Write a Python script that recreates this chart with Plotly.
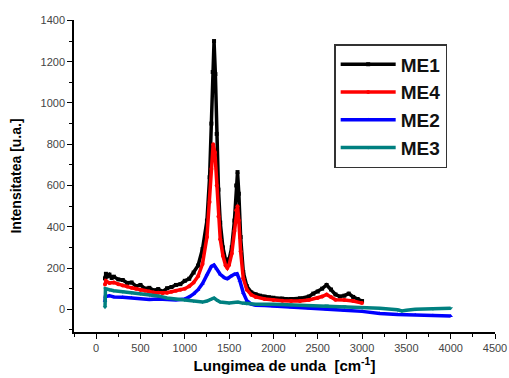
import plotly.graph_objects as go

# Raman spectra: wavenumber (cm^-1) vs intensity (a.u.)
x_me1 = [100, 110, 130, 150, 175, 200, 250, 300, 350, 400, 450, 500, 550, 600, 650, 700, 750, 800,
         850, 900, 950, 1000, 1050, 1100, 1150, 1200, 1250, 1280, 1300, 1315, 1330, 1345, 1360, 1380,
         1400, 1430, 1460, 1480, 1500, 1530, 1560, 1580, 1595, 1610, 1630, 1660, 1700, 1750, 1800,
         1850, 1900, 1950, 2000, 2100, 2200, 2300, 2400, 2450, 2500, 2550, 2600, 2650, 2700, 2750,
         2800, 2850, 2900, 2950, 3000]
y_me1 = [150, 172, 160, 168, 152, 158, 145, 142, 128, 130, 112, 118, 100, 104, 92, 98, 86, 102,
         108, 118, 122, 138, 148, 178, 212, 292, 430, 640, 900, 1150, 1300, 1140, 850, 580,
         420, 300, 240, 225, 242, 300, 430, 600, 665, 560, 350, 180, 112, 82, 72,
         66, 62, 58, 56, 52, 50, 53, 62, 76, 86, 100, 118, 96, 72, 62,
         66, 76, 60, 50, 40]

x_me4 = [100, 110, 150, 200, 250, 300, 350, 400, 450, 500, 550, 600, 650, 700, 750, 800, 850, 900,
         950, 1000, 1050, 1100, 1150, 1200, 1250, 1280, 1300, 1320, 1340, 1360, 1380, 1400, 1430,
         1460, 1480, 1500, 1530, 1560, 1580, 1595, 1610, 1630, 1660, 1700, 1750, 1800, 1900, 2000,
         2100, 2200, 2300, 2400, 2500, 2550, 2600, 2650, 2700, 2800, 2900, 3000]
y_me4 = [120, 138, 128, 130, 122, 115, 110, 104, 100, 94, 90, 86, 82, 80, 78, 80, 85, 90,
         95, 100, 112, 130, 160, 220, 350, 520, 680, 800, 760, 600, 450, 340, 260,
         212, 200, 215, 270, 380, 480, 500, 430, 280, 150, 95, 70, 60, 50, 45,
         42, 40, 40, 45, 55, 62, 72, 60, 46, 45, 40, 30]

x_me2 = [100, 105, 150, 200, 300, 400, 500, 600, 700, 800, 900, 1000, 1050, 1100, 1150, 1200, 1250,
         1300, 1330, 1360, 1400, 1450, 1480, 1520, 1560, 1590, 1620, 1660, 1700, 1750, 1800, 1900,
         2000, 2200, 2400, 2600, 2800, 3000, 3200, 3400, 3600, 3800, 4000]
y_me2 = [40, 62, 66, 60, 58, 55, 50, 48, 50, 48, 45, 50, 60, 75, 95, 125, 170,
         208, 215, 195, 170, 152, 148, 160, 170, 172, 140, 80, 42, 25, 20, 18,
         15, 10, 5, 0, -5, -10, -20, -25, -28, -30, -32]

x_me3 = [100, 105, 150, 200, 300, 400, 500, 600, 700, 800, 900, 1000, 1100, 1200, 1250, 1300,
         1330, 1360, 1400, 1500, 1600, 1650, 1700, 1800, 2000, 2200, 2400, 2600, 2800, 3000,
         3200, 3400, 3450, 3500, 3600, 3800, 4000]
y_me3 = [10, 100, 95, 90, 85, 80, 75, 70, 65, 55, 50, 45, 40, 35, 40, 50,
         55, 45, 35, 30, 35, 30, 28, 25, 25, 22, 20, 18, 15, 10,
         5, -2, -8, -5, 0, 3, 5]

x_ticks = [0, 500, 1000, 1500, 2000, 2500, 3000, 3500, 4000, 4500]
y_ticks = [0, 200, 400, 600, 800, 1000, 1200, 1400]

series = [
    ("ME1", x_me1, y_me1, "#000000", "square"),
    ("ME4", x_me4, y_me4, "#ff0000", "circle"),
    ("ME2", x_me2, y_me2, "#0000ff", "triangle-up"),
    ("ME3", x_me3, y_me3, "#008080", "triangle-down"),
]

fig = go.Figure()
for name, xs, ys, color, sym in series:
    fig.add_trace(go.Scatter(
        x=xs, y=ys, name="<b>" + name + "</b>", legendgroup=name,
        mode="lines+markers",
        line=dict(color=color, width=3.5),
        marker=dict(color=color, size=4, symbol=sym),
    ))

axis_font = dict(family="Arial", size=11, color="#444444")
fig.update_layout(
    width=509, height=378,
    margin=dict(l=74, r=14, t=20, b=46, autoexpand=False),
    paper_bgcolor="white", plot_bgcolor="white",
    showlegend=True,
    legend=dict(
        x=0.618, y=0.923, xanchor="left", yanchor="top",
        bordercolor="#333333", borderwidth=1.5, bgcolor="white",
        font=dict(family="Arial", size=19, color="#111111"),
        traceorder="grouped", tracegroupgap=0, itemwidth=55,
    ),
    xaxis=dict(
        range=[-250, 4500], tickvals=x_ticks, automargin=False,
        showline=True, linecolor="black", linewidth=1.5, mirror=False,
        ticks="outside", ticklen=5, tickcolor="black", showgrid=False, zeroline=False,
        minor=dict(ticks="outside", ticklen=3, dtick=250, tickcolor="black"),
        tickfont=axis_font,
        title=dict(text="<b>Lungimea de unda  [cm<sup>-1</sup>]</b>",
                   font=dict(family="Arial", size=15, color="black"), standoff=8),
    ),
    yaxis=dict(
        range=[-110, 1402], tickvals=y_ticks, automargin=False,
        showline=True, linecolor="black", linewidth=1.5, mirror=False,
        ticks="outside", ticklen=5, tickcolor="black", showgrid=False, zeroline=False,
        minor=dict(ticks="outside", ticklen=3, dtick=100, tickcolor="black"),
        tickfont=axis_font,
        title=dict(text="<b>Intensitatea [u.a.]</b>",
                   font=dict(family="Arial", size=14, color="black"), standoff=16),
    ),
)

fig.write_html("out.html")
